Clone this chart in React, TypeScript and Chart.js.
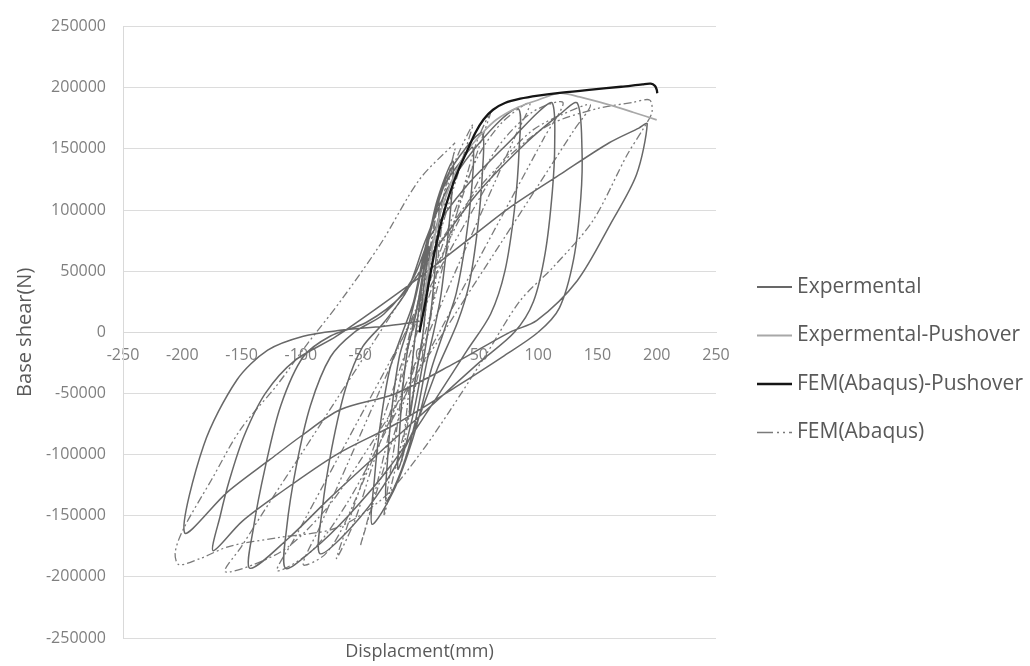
import { useEffect, useRef } from 'react';
import { Chart, registerables } from 'chart.js';

Chart.register(...registerables);

// ---- data (displacement mm, base shear N) ----
const seriesNames = ['Expermental', 'Expermental-Pushover', 'FEM(Abaqus)-Pushover', 'FEM(Abaqus)'];
const xAxisTitle = 'Displacment(mm)';
const yAxisTitle = 'Base shear(N)';
const xRange = [-250, 250];
const yRange = [-250000, 250000];
const xStep = 50;
const yStep = 50000;

const experimental: [number, number][] = [
  [0, 0],
  [4, 40000], [8, 70000], [8, 52000], [6, 28000], [4, 8000], [2, -8000], [-3, -35000], [-8, -68000], [-8, -48000], [-6, -25000], [-4, -6000], [-2, 8000],
  [3, 45000], [9, 82000], [16, 108000], [16, 85000], [13, 50000], [10, 20000], [7, 0], [2, -30000], [-6, -70000], [-18, -112000], [-17, -85000], [-14, -45000], [-10, -14000], [-6, 2000], [-2, 20000],
  [4, 55000], [14, 105000], [28, 140000], [27, 110000], [23, 70000], [18, 30000], [13, 5000], [6, -25000], [-4, -75000], [-15, -112000], [-28, -138000], [-27, -105000], [-23, -60000], [-17, -20000], [-10, 3000], [-3, 30000],
  [5, 65000], [20, 118000], [35, 140000], [45, 151000], [44, 118000], [39, 75000], [31, 32000], [22, 5000], [10, -30000], [-5, -85000], [-22, -130000], [-40, -157000], [-38, -120000], [-33, -75000], [-25, -30000], [-15, -2000], [-5, 25000],
  [5, 70000], [22, 125000], [40, 152000], [53, 163000], [53, 130000], [49, 85000], [42, 40000], [32, 8000], [15, -30000], [-5, -80000], [-30, -125000], [-58, -160000], [-84, -181000], [-82, -145000], [-74, -95000], [-62, -45000], [-48, -12000], [-30, 8000], [-10, 35000],
  [5, 75000], [25, 120000], [55, 160000], [83, 183000], [84, 150000], [80, 100000], [72, 50000], [60, 15000], [40, -15000], [10, -60000], [-25, -110000], [-60, -150000], [-90, -178000], [-113, -193000], [-112, -160000], [-104, -110000], [-92, -60000], [-75, -20000], [-55, 0], [-30, 15000], [-5, 45000],
  [10, 80000], [40, 120000], [80, 160000], [100, 180000], [112, 187500], [114, 155000], [112, 115000], [106, 65000], [96, 25000], [80, 0], [50, -25000], [10, -60000], [-30, -95000], [-75, -135000], [-110, -168000], [-143, -193000], [-140, -160000], [-130, -110000], [-117, -60000], [-98, -20000], [-75, -3000], [-45, 8000], [-15, 30000],
  [15, 70000], [50, 115000], [90, 155000], [118, 178000], [133, 187500], [137, 150000], [136, 110000], [130, 60000], [118, 20000], [100, 0], [70, -20000], [30, -45000], [-20, -75000], [-70, -100000], [-120, -133000], [-150, -155000], [-174, -178600], [-168, -150000], [-160, -120000], [-148, -85000], [-130, -50000], [-105, -23000], [-70, -3200],
  [0, 45000], [40, 75000], [76, 102000], [120, 130000], [160, 155000], [185, 167000], [192, 170500], [183, 129000], [161, 88500], [133, 42200], [99, 9700], [76, 0], [30, -25000], [-20, -50000], [-67, -63300], [-100, -85000], [-126, -104000], [-162, -130700], [-198, -164000], [-182, -92500], [-154, -39000], [-128, -14600], [-98, -3200], [-67, 1600], [-30, 5000], [0, 9000],
];

const experimentalPushover: [number, number][] = [
  [0, 0], [5, 35000], [10, 65000], [15, 88000], [20, 105000], [30, 130000], [40, 148000], [53, 163000], [65, 174000], [83, 184000], [100, 190000], [118, 195500], [135, 192500], [160, 186000], [180, 180000], [200, 173700],
];

const femPushover: [number, number][] = [
  [0, 0], [5, 25000], [10, 52000], [15, 76000], [20, 96000], [26, 115000], [33, 133000], [40, 148000], [47, 163000], [54, 174000], [62, 182000], [72, 187500], [85, 191000], [100, 193500], [120, 196000], [145, 198500], [170, 200800], [188, 202800], [195, 203300], [198.5, 201500], [200, 198500], [200.5, 195500],
];

const femCyclic: [number, number][] = [
  [0, 0],
  [8, 55000], [15, 105000], [10, 75000], [3, 35000], [-3, 0], [-8, -40000], [-15, -105000], [-10, -75000], [-3, -35000], [3, 0], [8, 40000],
  [20, 110000], [30, 150000], [22, 118000], [10, 70000], [-2, 22000], [-10, -15000], [-20, -85000], [-30, -150000], [-22, -118000], [-10, -70000], [2, -22000], [10, 15000],
  [25, 125000], [45, 170000], [36, 141000], [20, 90000], [5, 42000], [-8, 0], [-25, -80000], [-40, -140000], [-50, -175000], [-42, -149000], [-25, -95000], [-8, -40000], [5, 0],
  [20, 55000], [35, 110000], [48, 155000], [60, 180000], [50, 151000], [30, 93000], [10, 35000], [-2, 0], [-20, -52000], [-40, -110000], [-55, -155000], [-70, -185000],
  [-60, -156000], [-40, -98000], [-20, -40000], [-6, 0], [10, 45000], [30, 100000], [50, 145000], [70, 172000], [93, 187500],
  [80, 159000], [55, 104000], [30, 49000], [8, 0], [-15, -50000], [-40, -105000], [-65, -160000], [-80, -182000], [-98, -190000],
  [-85, -161000], [-60, -106000], [-35, -51000], [-12, 0], [10, 45000], [35, 95000], [65, 150000], [95, 180000], [121, 188000],
  [105, 159000], [80, 114000], [50, 60000], [20, 6000], [0, -30000], [-30, -84000], [-60, -138000], [-90, -178000], [-120, -195000],
  [-105, -168000], [-80, -123000], [-50, -69000], [-20, -15000], [0, 21000], [20, 57000], [45, 100000], [70, 140000], [95, 165000], [120, 178000], [144, 186000],
  [130, 165000], [100, 120000], [70, 75000], [40, 30000], [15, -8000], [-10, -45000], [-40, -90000], [-75, -140000], [-110, -175000], [-140, -190000], [-164, -195600],
  [-150, -175000], [-125, -137000], [-100, -100000], [-70, -55000], [-40, -10000], [-10, 35000], [20, 78000], [50, 118000], [80, 148000], [110, 170000], [150, 183000], [180, 188000], [194, 190000],
  [196, 180000], [189, 167000], [175, 145000], [146, 91000], [113, 53600], [85, 26000], [55, -20000], [25, -65000], [0, -100000], [-30, -135000], [-70, -160000], [-120, -168000], [-160, -175000], [-185, -185000], [-203, -190000],
  [-206, -180000], [-199, -160700], [-175, -120000], [-151, -79500], [-120, -43000], [-95, -10000], [-67, 25000], [-33, 72000], [0, 125000], [30, 155000],
];

const FONT = "'Open Sans', 'Noto Sans', sans-serif";

export default function App() {
  const ref = useRef<HTMLCanvasElement>(null);

  useEffect(() => {
    if (!ref.current) return;
    const toPts = (a: [number, number][]) => a.map(([x, y]) => ({ x, y }));
    const legendDash = [16, 4, 2, 4, 2, 4];

    const overlay = {
      id: 'overlay',
      afterDraw(chart: any) {
        const { ctx, chartArea } = chart;
        ctx.save();
        ctx.fillStyle = '#595959';
        ctx.font = `18px ${FONT}`;
        ctx.textAlign = 'center';
        ctx.textBaseline = 'middle';
        ctx.fillText(xAxisTitle, (chartArea.left + chartArea.right) / 2, chartArea.bottom + 14);

        const legendTop = 287;
        const legendGap = 48.5;
        chart.data.datasets.forEach((ds: any, i: number) => {
          const y = legendTop + i * legendGap;
          ctx.strokeStyle = ds.borderColor;
          ctx.lineWidth = ds.borderWidth + 0.3;
          ctx.setLineDash(ds.borderDash && ds.borderDash.length ? legendDash : []);
          ctx.beginPath();
          ctx.moveTo(757, y);
          ctx.lineTo(792, y);
          ctx.stroke();
          ctx.setLineDash([]);
          ctx.fillStyle = '#595959';
          ctx.font = `21px ${FONT}`;
          ctx.textAlign = 'left';
          ctx.fillText(ds.label, 797, y);
        });
        ctx.restore();
      },
    };

    const chart = new Chart(ref.current, {
      type: 'scatter',
      data: {
        datasets: [
          {
            label: seriesNames[0],
            data: toPts(experimental),
            showLine: true,
            borderColor: '#686868',
            borderWidth: 1.5,
            tension: 0.3,
            pointRadius: 0,
            order: 2,
          },
          {
            label: seriesNames[1],
            data: toPts(experimentalPushover),
            showLine: true,
            borderColor: '#a8a8a8',
            borderWidth: 1.7,
            tension: 0.3,
            pointRadius: 0,
            order: 1,
          },
          {
            label: seriesNames[2],
            data: toPts(femPushover),
            showLine: true,
            borderColor: '#151515',
            borderWidth: 2.3,
            tension: 0.3,
            pointRadius: 0,
            order: 0,
          },
          {
            label: seriesNames[3],
            data: toPts(femCyclic),
            showLine: true,
            borderColor: '#7a7a7a',
            borderWidth: 1.3,
            borderDash: [8, 3, 2, 3, 2, 3],
            tension: 0.3,
            pointRadius: 0,
            order: 3,
          },
        ],
      },
      options: {
        animation: false,
        responsive: false,
        layout: { padding: { left: 0, top: 22, right: 314, bottom: 28 } },
        plugins: { legend: { display: false }, tooltip: { enabled: false } },
        scales: {
          x: {
            type: 'linear',
            min: xRange[0],
            max: xRange[1],
            position: { y: 0 } as any,
            ticks: {
              stepSize: xStep,
              padding: 14,
              color: '#7f7f7f',
              font: { family: FONT, size: 16 },
              maxRotation: 0,
              autoSkip: false,
              callback: (v: any) => String(v),
            },
            grid: { display: false, drawTicks: false },
            border: { display: true, color: '#d9d9d9', width: 1 },
          },
          y: {
            type: 'linear',
            min: yRange[0],
            max: yRange[1],
            position: 'left',
            ticks: {
              stepSize: yStep,
              padding: 17,
              color: '#7f7f7f',
              font: { family: FONT, size: 16 },
              callback: (v: any) => String(v),
            },
            grid: { color: '#dcdcdc', lineWidth: 1, drawTicks: false },
            border: { display: true, color: '#d9d9d9', width: 1 },
            title: {
              display: true,
              text: yAxisTitle,
              color: '#595959',
              font: { family: FONT, size: 20 },
              padding: { top: 13, bottom: 0 },
            },
            afterFit: (s: any) => {
              s.width = 123;
            },
          },
        },
      },
      plugins: [overlay],
    } as any);

    return () => chart.destroy();
  }, []);

  return (
    <div style={{ position: 'fixed', left: 0, top: 0, width: 1030, height: 666, background: '#ffffff' }}>
      <canvas ref={ref} width={1030} height={666} style={{ display: 'block' }} />
    </div>
  );
}
